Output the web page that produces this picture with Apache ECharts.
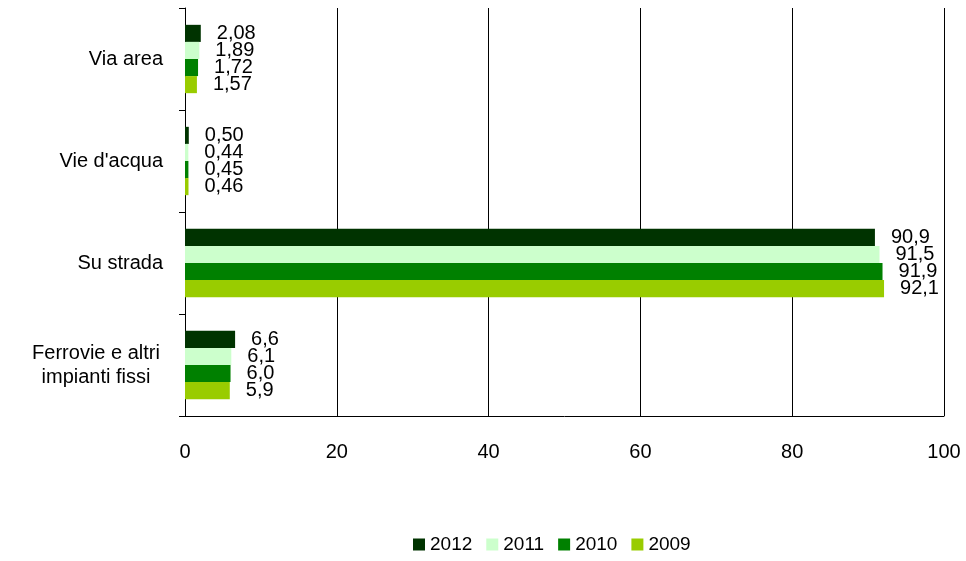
<!DOCTYPE html>
<html><head><meta charset="utf-8">
<script src="https://cdn.jsdelivr.net/npm/echarts@6/dist/echarts.min.js"></script>
<style>html,body{margin:0;background:#fff}#main{width:966px;height:561px}</style>
</head><body><div id="main"></div>
<script>
var categories = ['Via area', "Vie d'acqua", 'Su strada', 'Ferrovie e altri\nimpianti fissi'];
var decimals = [2, 2, 1, 1];
var years = ['2012', '2011', '2010', '2009'];
var v2012 = [2.08, 0.50, 90.9, 6.6];
var v2011 = [1.89, 0.44, 91.5, 6.1];
var v2010 = [1.72, 0.45, 91.9, 6.0];
var v2009 = [1.57, 0.46, 92.1, 5.9];
var colors = ['#003300', '#ccffcc', '#008000', '#99cc00'];
var xTicks = [0, 20, 40, 60, 80, 100];

var myChart = echarts.init(document.getElementById('main'));
var all = [v2012, v2011, v2010, v2009];
var series = all.map(function (d, i) {
  return {
    name: years[i], type: 'bar', data: d, barGap: '0%', barCategoryGap: '33%',
    itemStyle: { color: colors[i] },
    label: {
      show: true, position: 'right', distance: 16, color: '#000',
      fontFamily: 'Liberation Sans, Arial', fontSize: 20, lineHeight: 18,
      formatter: function (p) { return p.value.toFixed(decimals[p.dataIndex]).replace('.', ','); }
    }
  };
});
myChart.setOption({
  animation: false,
  textStyle: { fontFamily: 'Liberation Sans, Arial' },
  grid: { left: 185, right: 22, top: 8, bottom: 145 },
  legend: {
    data: years, bottom: 2, left: 408, icon: 'rect', itemWidth: 12, itemHeight: 12, itemGap: 14,
    textStyle: { fontSize: 19, color: '#000' }
  },
  xAxis: {
    type: 'value', min: 0, max: 100, interval: 20,
    axisLine: { show: true, lineStyle: { color: '#000' } },
    axisTick: { show: false },
    splitLine: { lineStyle: { color: '#000' } },
    axisLabel: { fontSize: 20, color: '#000', margin: 26,
      formatter: function (v) { return xTicks.indexOf(v) >= 0 ? String(v) : ''; } }
  },
  yAxis: {
    type: 'category', data: categories, inverse: true,
    axisLine: { show: true, lineStyle: { color: '#000' } },
    axisTick: { show: true, length: 6, lineStyle: { color: '#000' } },
    axisLabel: { fontSize: 20, color: '#000', margin: 22, align: 'right', lineHeight: 24,
      formatter: function (v) {
        if (v.indexOf('\n') < 0) return v;
        return v.split('\n').map(function (s) { return '{c|' + s + '}'; }).join('\n');
      },
      rich: { c: { width: 134, align: 'center', fontSize: 20, lineHeight: 24, color: '#000' } }
    }
  },
  series: series
});
</script></body></html>
